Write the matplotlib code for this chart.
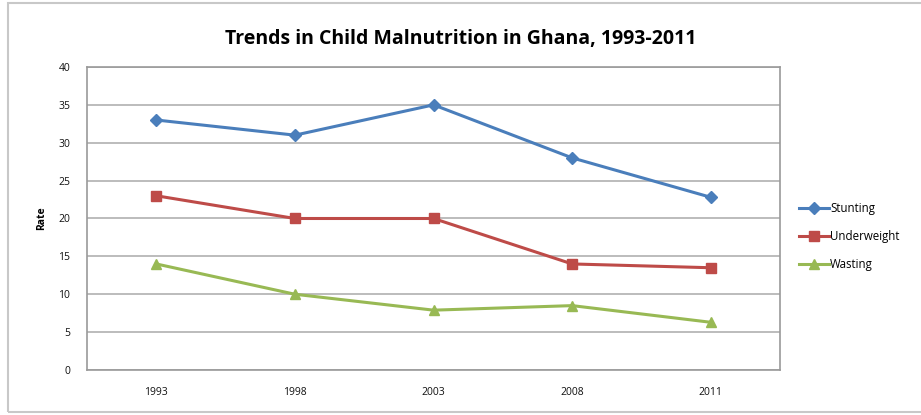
import matplotlib.pyplot as plt
from matplotlib.patches import Rectangle

years = ['1993', '1998', '2003', '2008', '2011']
stunting = [33.0, 31.0, 35.0, 28.0, 22.8]
underweight = [23.0, 20.0, 20.0, 14.0, 13.5]
wasting = [14.0, 10.0, 7.9, 8.5, 6.3]

plt.rcParams['font.family'] = ['Open Sans', 'DejaVu Sans']

fig = plt.figure(figsize=(9.21, 4.15), dpi=100)
ax = fig.add_axes([0.0945, 0.1084, 0.7525, 0.7302])

# outer chart border
fig.patches.append(Rectangle((8 / 921, 3 / 415), 1.2, 409 / 415, transform=fig.transFigure,
                             fill=False, edgecolor='#c8c8c8', linewidth=1.5))

x = range(len(years))
ax.plot(x, stunting, color='#4a7ebb', marker='D', markersize=6, linewidth=2.2, label='Stunting')
ax.plot(x, underweight, color='#be4b48', marker='s', markersize=7, linewidth=2.2, label='Underweight')
ax.plot(x, wasting, color='#98b954', marker='^', markersize=7, linewidth=2.2, label='Wasting')

ax.set_xlim(-0.5, 4.5)
ax.set_ylim(0, 40)
ax.set_yticks(range(0, 41, 5))
ax.set_xticks(list(x))
ax.set_xticklabels(years)
ax.tick_params(axis='both', length=0, labelsize=7.5, colors='#111111')
ax.tick_params(axis='x', pad=12)
ax.tick_params(axis='y', pad=12)
ax.grid(axis='y', color='#b0b0b0', linewidth=1.2)
ax.set_axisbelow(True)
for s in ax.spines.values():
    s.set_color('#9a9a9a')
    s.set_linewidth(1.2)

ax.set_ylabel('Rate', fontsize=7.5, fontweight='bold', labelpad=8)
fig.text(0.5, 0.907, 'Trends in Child Malnutrition in Ghana, 1993-2011',
         ha='center', va='center', fontsize=14, fontweight='bold')

ax.legend(loc='center left', bbox_to_anchor=(1.02, 0.44), frameon=False, fontsize=8.3,
          handlelength=2.6, labelspacing=1.3, handletextpad=0.15, borderaxespad=0)

fig.savefig('out.png', dpi=100)
